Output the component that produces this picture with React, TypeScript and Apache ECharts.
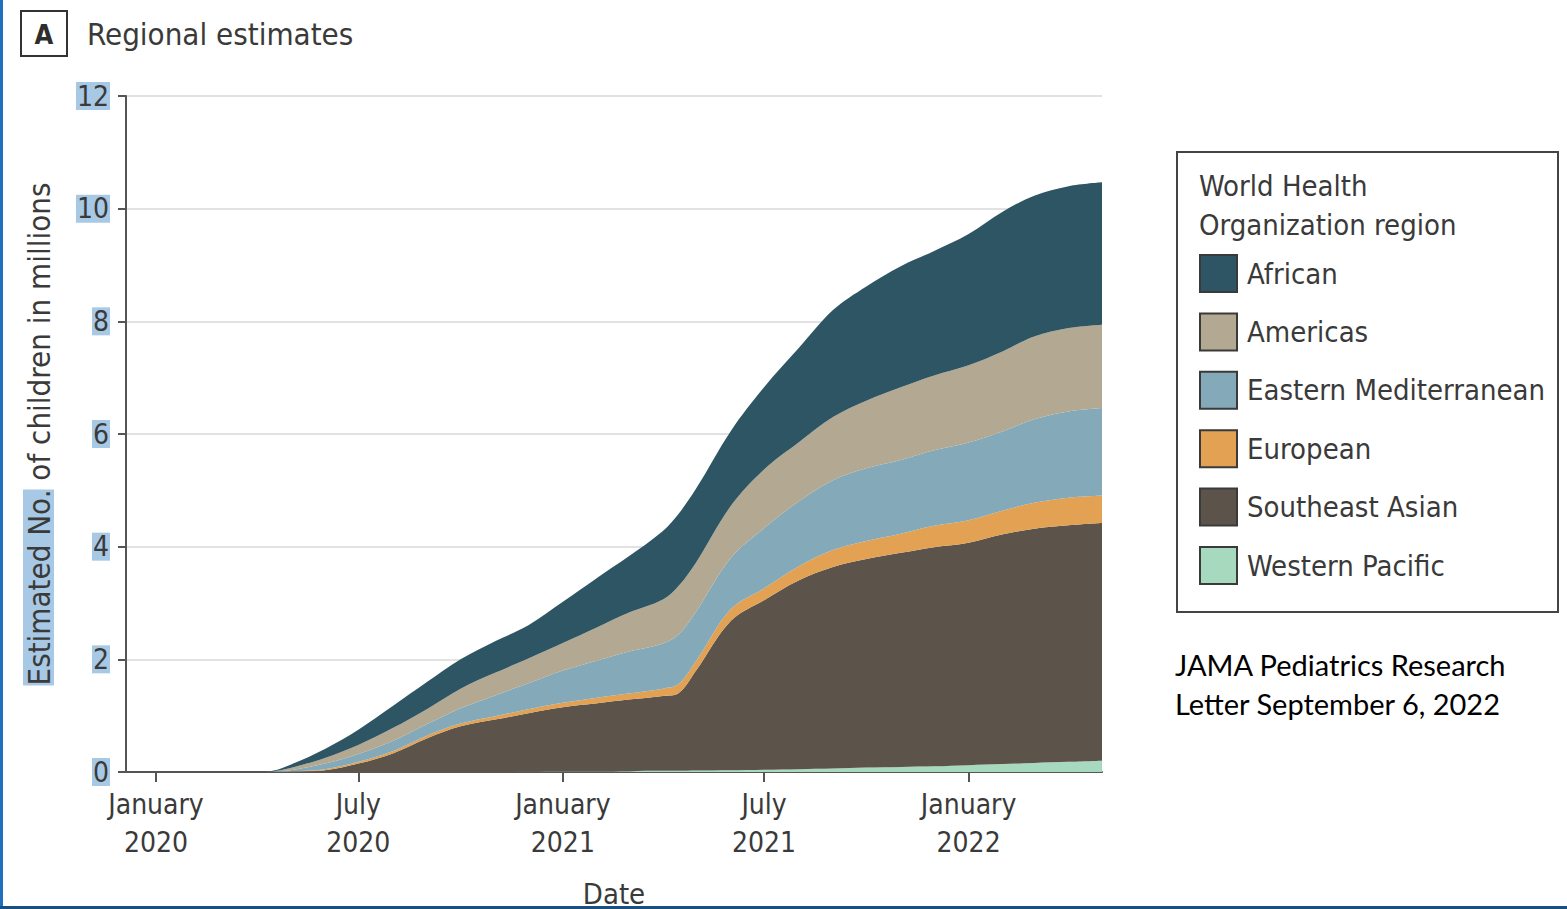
import React, { useEffect, useRef } from "react";
import * as echarts from "echarts";

const dates = [
  "2020-01-01", "2020-02-01", "2020-03-01", "2020-04-01", "2020-04-15", "2020-05-01",
  "2020-06-01", "2020-07-01", "2020-08-01", "2020-09-01", "2020-10-01", "2020-11-01",
  "2020-12-01", "2021-01-01", "2021-02-01", "2021-03-01", "2021-04-01", "2021-04-15",
  "2021-05-01", "2021-06-01", "2021-07-01", "2021-08-01", "2021-09-01", "2021-10-01",
  "2021-11-01", "2021-12-01", "2022-01-01", "2022-02-01", "2022-03-01", "2022-04-01",
  "2022-05-01",
];

const westernPacific = [0, 0, 0, 0, 0, 0, 0, 0, 0, 0, 0, 0, 0.005, 0.01, 0.01, 0.015, 0.02, 0.02, 0.025, 0.03, 0.04, 0.05, 0.06, 0.08, 0.09, 0.1, 0.12, 0.14, 0.16, 0.18, 0.2];
const southeastAsian = [0, 0, 0, 0, 0, 0.005, 0.03, 0.15, 0.33, 0.6, 0.81, 0.93, 1.04, 1.14, 1.21, 1.27, 1.33, 1.38, 1.78, 2.65, 3.01, 3.35, 3.58, 3.7, 3.8, 3.89, 3.95, 4.08, 4.16, 4.2, 4.22];
const european = [0, 0, 0, 0, 0, 0.005, 0.02, 0.03, 0.04, 0.05, 0.05, 0.06, 0.07, 0.08, 0.1, 0.11, 0.13, 0.16, 0.17, 0.21, 0.21, 0.25, 0.3, 0.32, 0.34, 0.38, 0.4, 0.42, 0.46, 0.49, 0.49];
const easternMediterranean = [0, 0, 0, 0, 0.005, 0.02, 0.1, 0.14, 0.18, 0.2, 0.27, 0.37, 0.46, 0.57, 0.66, 0.74, 0.8, 0.88, 0.88, 0.91, 1.07, 1.15, 1.24, 1.29, 1.31, 1.34, 1.38, 1.41, 1.48, 1.53, 1.55];
const americas = [0, 0, 0, 0, 0.005, 0.04, 0.1, 0.16, 0.23, 0.27, 0.35, 0.4, 0.44, 0.49, 0.59, 0.69, 0.78, 0.86, 0.87, 0.92, 1.04, 1.05, 1.12, 1.2, 1.29, 1.33, 1.37, 1.42, 1.47, 1.48, 1.48];
const african = [0, 0, 0, 0, 0.01, 0.06, 0.16, 0.27, 0.39, 0.48, 0.52, 0.56, 0.59, 0.73, 0.88, 1.0, 1.22, 1.28, 1.31, 1.33, 1.46, 1.67, 1.9, 2.03, 2.15, 2.21, 2.33, 2.48, 2.5, 2.52, 2.53];

const axisStart = "2019-12-05";
const axisEnd = "2022-05-01";
const tickDates = ["2020-01-01", "2020-07-01", "2021-01-01", "2021-07-01", "2022-01-01"];
const tickLabels = ["January\n2020", "July\n2020", "January\n2021", "July\n2021", "January\n2022"];

const regionNames = ["Western Pacific", "Southeast Asian", "European", "Eastern Mediterranean", "Americas", "African"];
const regionColors = ["#a7d9be", "#5c544b", "#e2a153", "#84aab9", "#b3a891", "#2e5564"];
const regionValues = [westernPacific, southeastAsian, european, easternMediterranean, americas, african];
const legendOrder = ["African", "Americas", "Eastern Mediterranean", "European", "Southeast Asian", "Western Pacific"];

const FONT = "'Liberation Sans Narrow', 'DejaVu Sans Condensed', 'Roboto Condensed', Roboto, sans-serif";
const TXT = "#3a3a3a";

const ts = (d: string) => {
  const [y, m, dd] = d.split("-").map(Number);
  return Date.UTC(y, m - 1, dd);
};

export default function App() {
  const ref = useRef<HTMLDivElement>(null);
  useEffect(() => {
    if (!ref.current) return;
    const chart = echarts.init(ref.current, undefined, { renderer: "svg" });
    const tickTs = tickDates.map(ts);
    const labelMap: Record<number, string> = {};
    tickTs.forEach((t, i) => (labelMap[t] = tickLabels[i]));

    const series = regionNames.map((name, i) => ({
      name,
      type: "line",
      stack: "total",
      xAxisIndex: 0,
      smooth: 0.35,
      showSymbol: false,
      symbol: "none",
      color: regionColors[i],
      lineStyle: { width: 0 },
      areaStyle: { color: regionColors[i], opacity: 1 },
      data: dates.map((d, j) => [ts(d), regionValues[i][j]]),
    }));

    chart.setOption({
      animation: false,
      backgroundColor: "#ffffff",
      textStyle: { fontFamily: FONT },
      grid: { left: 126, right: 465, top: 96, bottom: 137, containLabel: false, outerBoundsMode: "none" },
      xAxis: [
        {
          type: "time",
          position: "bottom",
          min: ts(axisStart),
          max: ts(axisEnd),
          axisLine: { show: true, onZero: false, lineStyle: { color: "#555", width: 2 } },
          axisTick: { show: false },
          axisLabel: { show: false },
          splitLine: { show: false },
        },
        {
          type: "value",
          position: "bottom",
          offset: 0,
          min: ts(axisStart),
          max: ts(axisEnd),
          name: "Date",
          nameLocation: "middle",
          nameGap: 107,
          nameTextStyle: { fontSize: 29, color: TXT, fontFamily: FONT },
          axisLine: { show: false, onZero: false },
          axisTick: { show: true, customValues: tickTs, length: 10, lineStyle: { color: "#555", width: 2 } },
          axisLabel: {
            customValues: tickTs,
            formatter: (v: number) => labelMap[v] ?? "",
            fontSize: 28,
            lineHeight: 38,
            color: TXT,
            margin: 13,
            fontFamily: FONT,
          },
          splitLine: { show: false },
        },
      ],
      yAxis: {
        type: "value",
        min: 0,
        max: 12,
        interval: 2,
        name: "{hl|Estimated No.} of children in millions",
        nameLocation: "middle",
        nameRotate: 90,
        nameGap: 72,
        nameTextStyle: {
          fontSize: 31,
          color: TXT,
          fontFamily: FONT,
          rich: { hl: { fontSize: 31, color: TXT, fontFamily: FONT, backgroundColor: "#a8c9e5" } },
        },
        axisLine: { show: true, onZero: false, lineStyle: { color: "#555", width: 2 } },
        axisTick: { show: true, length: 8, lineStyle: { color: "#555", width: 2 } },
        axisLabel: {
          fontSize: 28,
          color: TXT,
          margin: 16,
          fontFamily: FONT,
          backgroundColor: "#a8c9e5",
          padding: [0, 1, 0, 1],
        },
        splitLine: { show: true, lineStyle: { color: "#e2e2e2", width: 2 } },
      },
      legend: {
        data: legendOrder,
        orient: "vertical",
        left: 1199,
        top: 254,
        padding: 0,
        itemWidth: 37,
        itemHeight: 37,
        itemGap: 19.4,
        icon: "rect",
        itemStyle: { borderColor: "#3a3a3a", borderWidth: 2 },
        textStyle: { fontSize: 29, color: TXT, fontFamily: FONT, padding: [0, 0, 0, 5] },
        selectedMode: false,
      },
      graphic: [
        { type: "rect", shape: { x: 0, y: 0, width: 3, height: 909 }, style: { fill: "#2170c0" } },
        { type: "rect", shape: { x: 0, y: 906, width: 1567, height: 3 }, style: { fill: "#1b4f80" } },
        { type: "rect", shape: { x: 21, y: 11, width: 46, height: 45 }, style: { fill: "none", stroke: "#333", lineWidth: 2 } },
        {
          type: "text", x: 44, y: 34,
          style: { text: "A", fontSize: 27, fontWeight: "bold", fill: "#2e2e2e", fontFamily: FONT, align: "center", verticalAlign: "middle" },
        },
        {
          type: "text", x: 87, y: 34,
          style: { text: "Regional estimates", fontSize: 31, fill: TXT, fontFamily: FONT, verticalAlign: "middle" },
        },
        { type: "rect", shape: { x: 1177, y: 152, width: 381, height: 460 }, style: { fill: "none", stroke: "#444", lineWidth: 2 } },
        {
          type: "text", x: 1199, y: 166,
          style: { text: "World Health\nOrganization region", fontSize: 29, lineHeight: 39, fill: TXT, fontFamily: FONT },
        },
        {
          type: "text", x: 1175, y: 645,
          style: { text: "JAMA Pediatrics Research\nLetter September 6, 2022", fontSize: 29, lineHeight: 39, fill: "#000", fontFamily: "Lato, 'Open Sans', sans-serif" },
        },
      ],
      series,
    });
    return () => chart.dispose();
  }, []);
  return <div ref={ref} style={{ position: "absolute", left: 0, top: 0, width: 1567, height: 909 }} />;
}
